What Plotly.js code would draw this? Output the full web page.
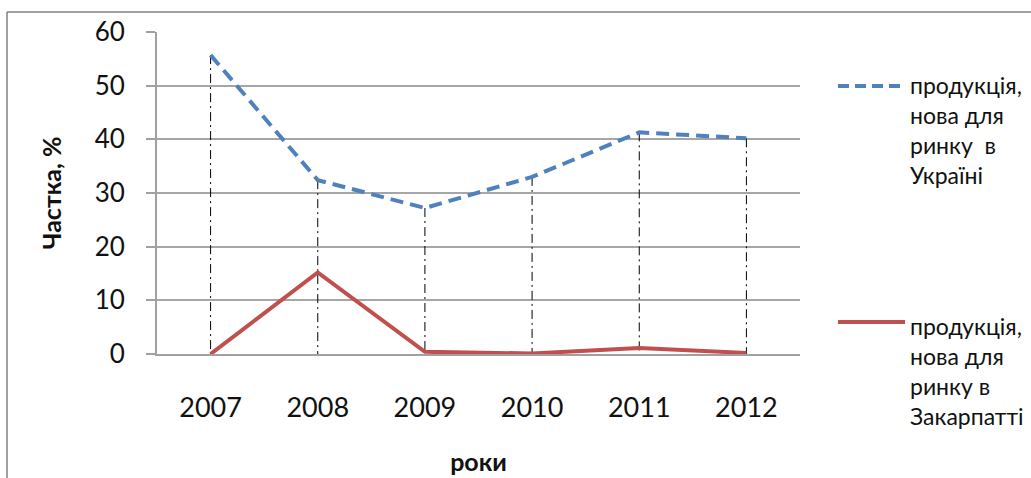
<!DOCTYPE html>
<html>
<head>
<meta charset="utf-8">
<script src="https://cdn.plot.ly/plotly-3.0.1.min.js"></script>
<style>html,body{margin:0;padding:0;background:#fff;}#chart{width:1031px;height:478px;}</style>
</head>
<body>
<div id="chart"></div>
<script>
const years = ['2007', '2008', '2009', '2010', '2011', '2012'];
const ukraine = [55.7, 32.4, 27.2, 33.0, 41.3, 40.2];
const zakarpattia = [0.0, 15.2, 0.4, 0.1, 1.1, 0.2];
const nameUkraine = 'продукція,<br>нова для<br>ринку  в<br>Україні';
const nameZak = 'продукція,<br>нова для<br>ринку в<br>Закарпатті';
const yTitle = 'Частка, %';
const xTitle = 'роки';

const FONT = 'Lato, "Open Sans", sans-serif';
const BLUE = '#4f81bd';
const RED = '#c0504d';

// drop lines from the highest point of each category to the axis
const dropX = [], dropY = [];
years.forEach((yr, i) => {
  dropX.push(yr, yr, null);
  dropY.push(Math.max(ukraine[i], zakarpattia[i]), 0, null);
});

const traces = [
  {x: dropX, y: dropY, type: 'scatter', mode: 'lines', showlegend: false, hoverinfo: 'skip',
   line: {color: '#000', width: 1, dash: '9px,4px,2px,4px'}},
  {x: years, y: ukraine, type: 'scatter', mode: 'lines', name: nameUkraine, showlegend: false,
   line: {color: BLUE, width: 4, dash: '13px,7px'}},
  {x: years, y: zakarpattia, type: 'scatter', mode: 'lines', name: nameZak, showlegend: false,
   line: {color: RED, width: 4}}
];

const L = 157, R = 800, T = 32, B = 354;
const px = v => (v - L) / (R - L);
const py = v => (B - v) / (B - T);

const layout = {
  width: 1031, height: 478,
  margin: {l: L, r: 1031 - R, t: T, b: 478 - B},
  paper_bgcolor: '#fff', plot_bgcolor: '#fff',
  font: {family: FONT, color: '#111'},
  showlegend: false,
  xaxis: {
    type: 'category', range: [-0.5, 5.5], fixedrange: true,
    showgrid: false, zeroline: false,
    showline: true, linecolor: '#a0a0a0', linewidth: 2,
    ticks: '', ticklabelstandoff: 29,
    tickfont: {size: 27, family: FONT, color: '#111'},
    title: {text: xTitle, font: {size: 25, family: FONT, weight: 'bold', color: '#111'}, standoff: 31},
    automargin: false
  },
  yaxis: {
    range: [0, 60], dtick: 10, tick0: 0, fixedrange: true,
    showgrid: true, gridcolor: '#a6a6a6', gridwidth: 2, zeroline: false,
    showline: true, linecolor: '#a0a0a0', linewidth: 2,
    ticks: 'outside', ticklen: 9, tickcolor: '#a0a0a0', tickwidth: 2,
    ticklabelstandoff: 16,
    tickfont: {size: 26, family: FONT, color: '#111'},
    title: {text: yTitle, font: {size: 25, family: FONT, weight: 'bold', color: '#111'}, standoff: 26},
    automargin: false
  },
  shapes: [
    {type: 'line', xref: 'paper', yref: 'paper', x0: px(7), x1: px(1031), y0: py(12), y1: py(12), line: {color: '#808080', width: 1.5}},
    {type: 'line', xref: 'paper', yref: 'paper', x0: px(7), x1: px(7), y0: py(12), y1: py(480), line: {color: '#808080', width: 1.5}},
    {type: 'line', xref: 'paper', yref: 'paper', x0: px(838), x1: px(905), y0: py(86), y1: py(86), line: {color: BLUE, width: 4, dash: '11px,6px'}},
    {type: 'line', xref: 'paper', yref: 'paper', x0: px(838), x1: px(905), y0: py(322), y1: py(322), line: {color: RED, width: 4}}
  ],
  annotations: [
    {xref: 'paper', yref: 'paper', x: px(908), y: py(69), xanchor: 'left', yanchor: 'top', align: 'left', showarrow: false,
     text: nameUkraine, font: {size: 23, family: FONT, color: '#111'}},
    {xref: 'paper', yref: 'paper', x: px(908), y: py(310), xanchor: 'left', yanchor: 'top', align: 'left', showarrow: false,
     text: nameZak, font: {size: 23, family: FONT, color: '#111'}}
  ]
};

Plotly.newPlot('chart', traces, layout, {displayModeBar: false, staticPlot: true});
</script>
</body>
</html>
